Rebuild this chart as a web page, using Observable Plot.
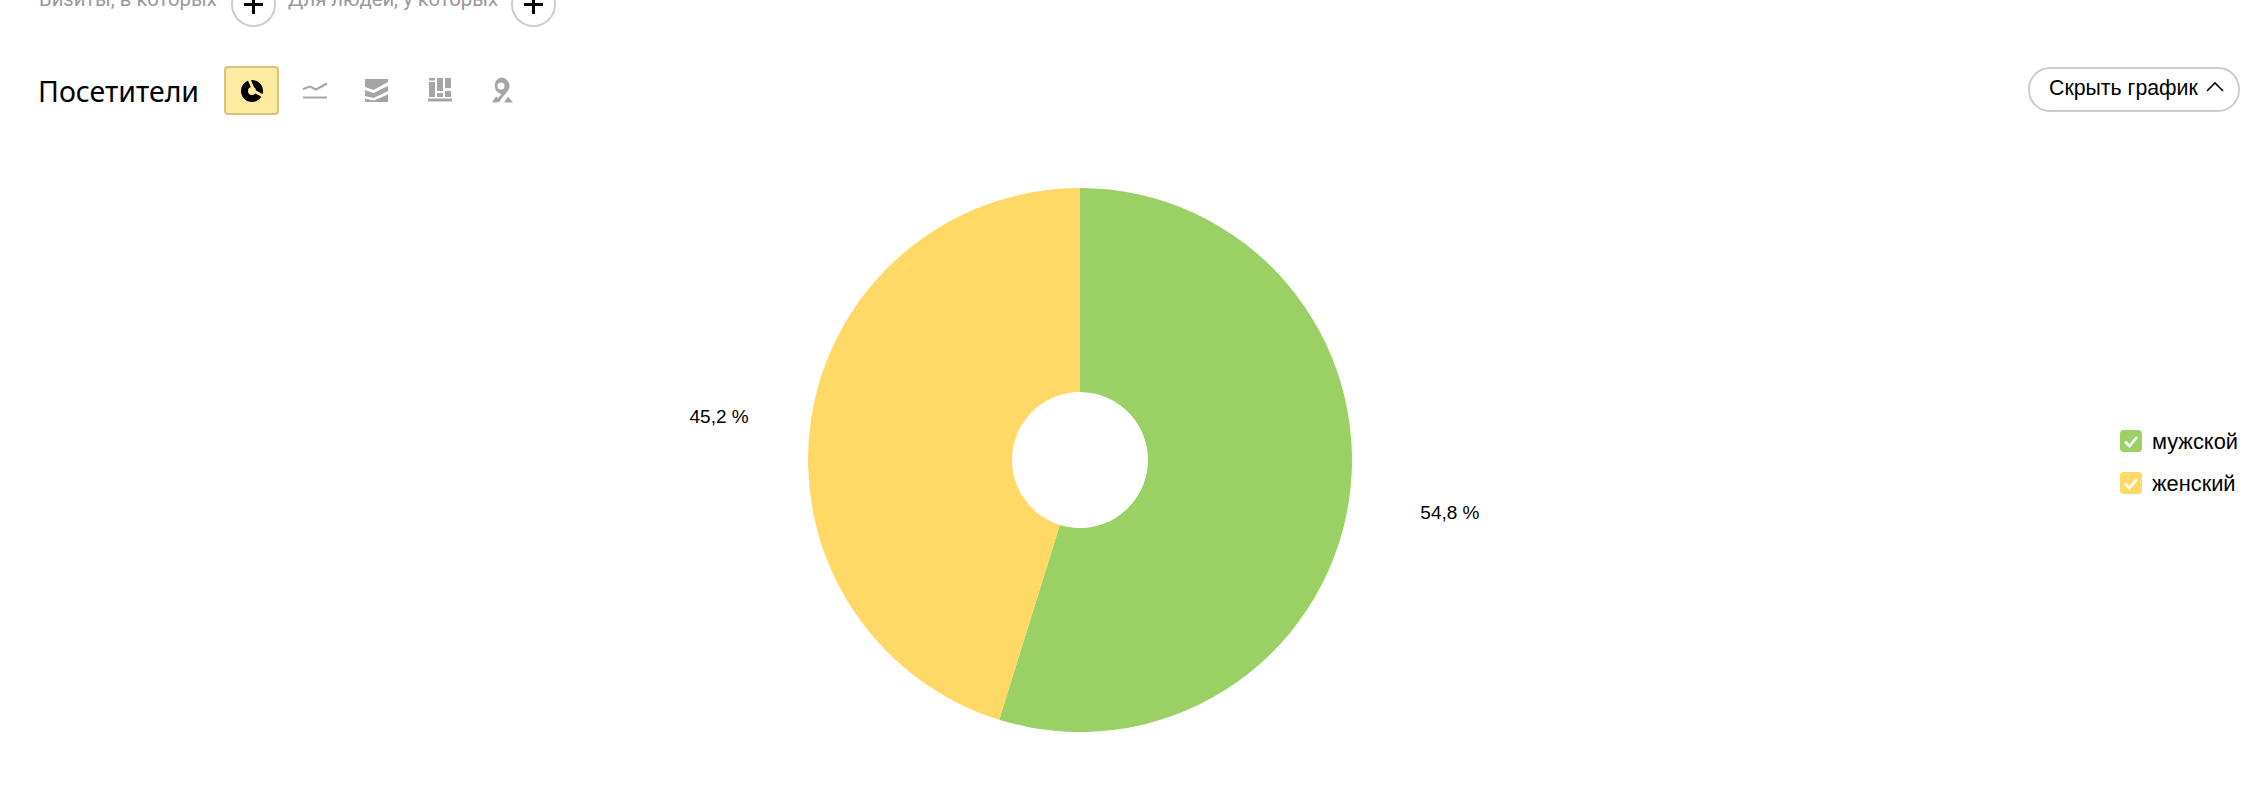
<!DOCTYPE html>
<html lang="ru">
<head>
<meta charset="utf-8">
<script src="https://cdn.jsdelivr.net/npm/d3@7"></script>
<script src="https://cdn.jsdelivr.net/npm/@observablehq/plot@0.6"></script>
<style>
html,body{margin:0;padding:0;background:#fff;width:2250px;height:786px;overflow:hidden;font-family:"Liberation Sans",sans-serif}
#page{position:relative;width:2250px;height:786px;overflow:hidden}
#chart{position:absolute;left:0;top:0}
.t{position:absolute;white-space:nowrap;line-height:1}
.plus{position:absolute;top:-18px;width:41px;height:41px;border:2px solid #ccc;border-radius:50%;background:#fff}
.plus:before{content:"";position:absolute;left:11px;top:19px;width:19px;height:3px;background:#000}
.plus:after{content:"";position:absolute;left:19px;top:11px;width:3px;height:19px;background:#000}
.check{position:absolute;left:2120px;width:22px;height:22px;border-radius:4px}
.check svg{display:block}
#active{position:absolute;left:224px;top:66px;width:51px;height:45px;background:#ffeba0;border:2px solid #d8c27e;border-radius:4px}
#hide{position:absolute;left:2028px;top:67px;width:208px;height:41px;border:2px solid #ccc;border-radius:22px;background:#fff}
#icons{position:absolute;left:0;top:0}
</style>
</head>
<body>
<div id="page">
  <div id="chart"></div>
  <div class="t" style="left:39px;top:-11px;font-size:20.300px;color:#999;font-family:'Roboto'">Визиты, в которых</div>
  <div class="plus" style="left:231px"></div>
  <div class="t" style="left:288px;top:-11px;font-size:20.300px;color:#999;font-family:'Roboto'">Для людей, у которых</div>
  <div class="plus" style="left:511px"></div>
  <div class="t" style="left:38px;top:77px;font-size:28.500px;color:#000;font-family:'Noto Sans'">Посетители</div>
  <div id="active"></div>
  <svg id="icons" width="560" height="130">
    <circle cx="252" cy="91" r="7.500" fill="none" stroke="#000" stroke-width="7"/>
    <path d="M254 91L248.500 78M254 91L264 96.500" fill="none" stroke="#ffeba0" stroke-width="3"/>
    <g fill="none" stroke="#a5a5a5" stroke-width="2"><path d="M303 89l7-2.500 6 3 11-6"/><path d="M303 97.500h24"/></g>
    <path d="M365 79h23v3l-14.500 8-8.500-3zM365 90l8.500 3 14.500-7v5l-14.500 7-8.500-2zM365 98.500l8.500 2 14.500-6v7.500h-23z" fill="#a5a5a5"/>
    <g fill="#a5a5a5"><path d="M428 98.500h24v3h-24zM429 82h6v15h-6zM429 78h6v2.500h-6zM437 78h6v13h-6zM437 93h6v4h-6zM445 78h6v10h-6zM445 91h6v6h-6z"/></g>
    <g fill="#a5a5a5"><path fill-rule="evenodd" d="M501 77.500a8.500 8.500 0 0 1 8.500 8.500c0 6-7 9-10 16h-3c.5-3 3-6 5-8a8.500 8.500 0 0 1-.5-16.500zm0 5a3.500 3.500 0 1 0 0 7 3.500 3.500 0 0 0 0-7z"/><path d="M492 102.500l4-6 2 1.500-1 4.500zM504 102.500l4-6 5 6z"/></g>
  </svg>
  <div id="hide"></div>
  <div class="t" style="left:2049px;top:78px;font-size:21.300px;color:#000">Скрыть график</div>
  <svg style="position:absolute;left:2205px;top:80px" width="20" height="14"><path d="M2 11l8-8 8 8" fill="none" stroke="#000" stroke-width="1.600"/></svg>
  <div id="legend"></div>
</div>
<script>
const categories = ["мужской", "женский"];
const shares = [54.8, 45.2];
const shareLabels = ["54,8 %", "45,2 %"];
const colors = ["#9bd065", "#ffd866"];

const pie = d3.pie().sort(null).value(d => d.share);
const slices = pie(categories.map((name, i) => ({name, share: shares[i], label: shareLabels[i]})))
  .map(a => ({...a, name: a.data.name, label: a.data.label, mid: (a.startAngle + a.endAngle) / 2}));

const INNER = 0.25;   // hole radius as a share of the outer radius
const LABEL_R = 1.37; // label radius as a share of the outer radius

const wedges = Plot.dot(slices, {
  x: () => 0,
  y: () => 0,
  fill: "name",
  render(index, scales, values, dims, context, next) {
    const cx = scales.x(0), cy = scales.y(0);
    const R = Math.abs(scales.x(1) - cx);
    const arc = d3.arc().innerRadius(R * INNER).outerRadius(R);
    const g = d3.create("svg:g").attr("transform", `translate(${cx},${cy})`);
    g.selectAll("path").data(slices).join("path")
      .attr("d", arc)
      .attr("fill", d => scales.color(d.name));
    return g.node();
  }
});

const labelMark = (i, dx, dy) => Plot.text(slices.filter((d, k) => k === i), {
  x: d => LABEL_R * Math.sin(d.mid),
  y: d => LABEL_R * Math.cos(d.mid),
  text: "label",
  dx, dy,
  fill: "#000",
  fontSize: 19,
  fontFamily: "Liberation Sans",
  textAnchor: "middle"
});

const chart = Plot.plot({
  width: 2250,
  height: 786,
  margin: 0,
  style: {background: "transparent", fontFamily: "Liberation Sans"},
  x: {domain: [-1, 1], range: [808, 1352], axis: null},
  y: {domain: [-1, 1], range: [732, 188], axis: null},
  color: {domain: categories, range: colors, legend: false},
  marks: [wedges, labelMark(0, 1, -4), labelMark(1, 7, 12)]
});
document.getElementById("chart").append(chart);

const legend = document.getElementById("legend");
categories.forEach((name, i) => {
  const top = 430 + i * 42;
  const box = document.createElement("div");
  box.className = "check";
  box.style.top = top + "px";
  box.style.background = colors[i];
  box.innerHTML = '<svg width="22" height="22"><path d="M5 11.500l4.500 4.500 7.500-9" fill="none" stroke="#fff" stroke-width="2.600"/></svg>';
  legend.append(box);
  const t = document.createElement("div");
  t.className = "t";
  t.style.cssText = `left:2152px;top:${top}px;font-size:21.800px;color:#000;line-height:24px`;
  t.textContent = name;
  legend.append(t);
});
</script>
</body>
</html>
